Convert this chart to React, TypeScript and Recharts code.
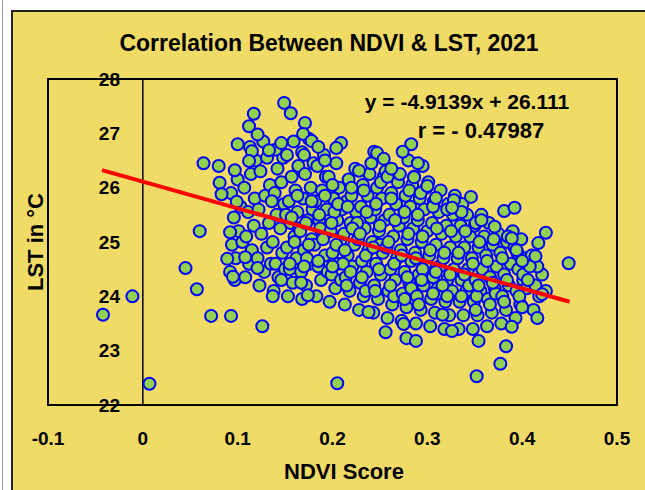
import React from "react"
import {
  ScatterChart,
  Scatter,
  XAxis,
  YAxis,
  ReferenceLine,
  ReferenceArea,
} from "recharts"

// NDVI vs LST samples, [ndvi, lst]
const edgePoints: [number, number][] = [
  [-0.042, 23.66], [-0.011, 24.0], [0.007, 22.39], [0.045, 24.52], [0.057, 24.13],
  [0.072, 23.64], [0.093, 23.64], [0.126, 23.45], [0.06, 25.2], [0.064, 26.45],
  [0.08, 26.4], [0.081, 26.09], [0.083, 25.88], [0.092, 25.18], [0.089, 24.69],
  [0.095, 24.36], [0.099, 25.74], [0.097, 26.32], [0.1, 26.8], [0.112, 27.13],
  [0.117, 27.36], [0.121, 26.98], [0.115, 26.67], [0.112, 26.49], [0.133, 26.69],
  [0.146, 26.82], [0.149, 27.56], [0.156, 27.37], [0.171, 27.19], [0.169, 26.99],
  [0.178, 26.86], [0.209, 26.82], [0.204, 26.73], [0.244, 26.66], [0.247, 26.64],
  [0.283, 26.8], [0.274, 26.66], [0.295, 26.4], [0.228, 26.31], [0.254, 26.53],
  [0.3, 26.03], [0.286, 26.19], [0.309, 25.81], [0.328, 25.77], [0.326, 25.63],
  [0.346, 25.83], [0.381, 25.57], [0.392, 25.63], [0.425, 25.17], [0.417, 24.98],
  [0.414, 24.74], [0.406, 24.3], [0.421, 24.04], [0.416, 23.6], [0.383, 23.08],
  [0.377, 22.76], [0.352, 22.53], [0.354, 23.18], [0.326, 23.36], [0.4, 23.8],
  [0.389, 23.44], [0.4, 24.65], [0.394, 24.85], [0.389, 25.07], [0.371, 25.28],
  [0.357, 25.4], [0.449, 24.61], [0.205, 22.4], [0.256, 23.34], [0.278, 23.23],
  [0.288, 23.18], [0.275, 23.49], [0.238, 23.71], [0.316, 23.66], [0.137, 24.0],
  [0.108, 24.72], [0.121, 24.52], [0.146, 24.3], [0.167, 24.25], [0.174, 24.02],
  [0.17, 26.6], [0.185, 26.75], [0.192, 26.5], [0.262, 26.35], [0.29, 26.45],
]

const corePoints: [number, number][] = [
  [0.092, 24.45], [0.098, 24.7], [0.094, 24.95], [0.101, 25.2], [0.096, 25.45],
  [0.103, 25.65], [0.093, 25.9], [0.1, 26.15], [0.097, 24.3], [0.105, 25.0],
  [0.108, 24.35], [0.112, 24.6], [0.115, 24.85], [0.109, 25.1], [0.117, 25.3],
  [0.111, 25.55], [0.118, 25.8], [0.107, 26.0], [0.114, 26.25], [0.119, 26.5],
  [0.113, 26.75], [0.123, 24.2], [0.128, 24.45], [0.121, 24.7], [0.131, 24.9],
  [0.125, 25.15], [0.133, 25.35], [0.122, 25.6], [0.129, 25.85], [0.134, 26.05],
  [0.124, 26.3], [0.131, 26.55], [0.127, 26.85], [0.135, 24.6], [0.138, 24.1],
  [0.143, 24.35], [0.14, 24.6], [0.147, 24.8], [0.137, 25.0], [0.145, 25.25],
  [0.141, 25.5], [0.149, 25.7], [0.139, 25.9], [0.146, 26.1], [0.142, 26.35],
  [0.148, 26.55], [0.14, 26.7], [0.15, 24.5], [0.136, 25.75], [0.153, 24.0],
  [0.158, 24.25], [0.155, 24.5], [0.162, 24.7], [0.152, 24.9], [0.16, 25.1],
  [0.156, 25.35], [0.163, 25.55], [0.154, 25.75], [0.161, 25.95], [0.157, 26.2],
  [0.164, 26.4], [0.152, 26.6], [0.159, 26.85], [0.165, 25.25], [0.151, 25.5],
  [0.168, 23.95], [0.172, 24.2], [0.167, 24.45], [0.176, 24.6], [0.17, 24.85],
  [0.178, 25.05], [0.166, 25.2], [0.174, 25.4], [0.179, 25.6], [0.169, 25.8],
  [0.177, 26.0], [0.171, 26.25], [0.18, 26.45], [0.168, 26.65], [0.175, 26.9],
  [0.173, 24.7], [0.183, 24.0], [0.188, 24.3], [0.185, 24.55], [0.192, 24.75],
  [0.181, 24.95], [0.19, 25.15], [0.186, 25.4], [0.194, 25.6], [0.182, 25.75],
  [0.189, 25.95], [0.193, 26.2], [0.184, 26.4], [0.191, 26.6], [0.187, 25.25],
  [0.195, 24.45], [0.197, 23.9], [0.203, 24.15], [0.199, 24.4], [0.206, 24.6],
  [0.2, 24.8], [0.208, 25.0], [0.198, 25.2], [0.205, 25.4], [0.21, 25.6],
  [0.201, 25.8], [0.207, 26.0], [0.196, 26.2], [0.204, 26.45], [0.209, 24.3],
  [0.202, 25.55], [0.213, 23.85], [0.218, 24.1], [0.214, 24.35], [0.221, 24.55],
  [0.216, 24.75], [0.223, 24.95], [0.212, 25.15], [0.219, 25.35], [0.225, 25.55],
  [0.215, 25.75], [0.222, 25.95], [0.217, 26.15], [0.224, 26.35], [0.211, 24.6],
  [0.22, 25.85], [0.228, 23.75], [0.233, 24.0], [0.229, 24.25], [0.236, 24.45],
  [0.231, 24.65], [0.238, 24.85], [0.227, 25.05], [0.234, 25.25], [0.24, 25.45],
  [0.23, 25.65], [0.237, 25.85], [0.232, 26.05], [0.239, 26.25], [0.235, 24.1],
  [0.226, 25.35], [0.243, 23.7], [0.248, 23.95], [0.244, 24.2], [0.251, 24.4],
  [0.246, 24.6], [0.253, 24.8], [0.242, 25.0], [0.249, 25.2], [0.255, 25.4],
  [0.245, 25.6], [0.252, 25.8], [0.247, 26.0], [0.254, 26.2], [0.241, 26.45],
  [0.25, 24.95], [0.258, 23.6], [0.263, 23.85], [0.259, 24.1], [0.266, 24.3],
  [0.261, 24.5], [0.268, 24.7], [0.257, 24.9], [0.264, 25.1], [0.27, 25.3],
  [0.26, 25.5], [0.267, 25.7], [0.262, 25.9], [0.269, 26.1], [0.256, 26.3],
  [0.265, 24.0], [0.273, 23.55], [0.278, 23.8], [0.274, 24.05], [0.281, 24.25],
  [0.276, 24.45], [0.283, 24.65], [0.272, 24.85], [0.279, 25.05], [0.285, 25.25],
  [0.275, 25.45], [0.282, 25.65], [0.277, 25.85], [0.284, 26.05], [0.271, 26.25],
  [0.28, 26.5], [0.283, 24.15], [0.288, 23.5], [0.293, 23.75], [0.289, 24.0],
  [0.296, 24.2], [0.291, 24.4], [0.298, 24.6], [0.287, 24.8], [0.294, 25.0],
  [0.3, 25.2], [0.29, 25.4], [0.297, 25.6], [0.292, 25.8], [0.299, 26.0],
  [0.286, 26.2], [0.295, 24.5], [0.303, 23.45], [0.308, 23.7], [0.304, 23.95],
  [0.311, 24.15], [0.306, 24.35], [0.313, 24.55], [0.302, 24.75], [0.309, 24.95],
  [0.315, 25.15], [0.305, 25.35], [0.312, 25.55], [0.307, 25.75], [0.314, 25.95],
  [0.301, 26.1], [0.31, 24.05], [0.318, 23.4], [0.323, 23.65], [0.319, 23.9],
  [0.326, 24.1], [0.321, 24.3], [0.328, 24.5], [0.317, 24.7], [0.324, 24.9],
  [0.33, 25.1], [0.32, 25.3], [0.327, 25.5], [0.322, 25.7], [0.329, 25.85],
  [0.316, 24.2], [0.333, 23.4], [0.338, 23.65], [0.334, 23.9], [0.341, 24.1],
  [0.336, 24.3], [0.343, 24.5], [0.332, 24.7], [0.339, 24.9], [0.345, 25.1],
  [0.335, 25.3], [0.342, 25.5], [0.337, 25.7], [0.344, 24.2], [0.348, 23.4],
  [0.353, 23.65], [0.349, 23.9], [0.356, 24.1], [0.351, 24.3], [0.358, 24.5],
  [0.347, 24.7], [0.354, 24.9], [0.36, 25.1], [0.35, 25.3], [0.357, 25.5],
  [0.352, 24.0], [0.363, 23.45], [0.368, 23.7], [0.364, 23.95], [0.371, 24.15],
  [0.366, 24.35], [0.373, 24.55], [0.362, 24.75], [0.369, 24.95], [0.375, 25.15],
  [0.365, 25.35], [0.372, 24.05], [0.378, 23.5], [0.383, 23.75], [0.379, 24.0],
  [0.386, 24.2], [0.381, 24.4], [0.388, 24.6], [0.377, 24.8], [0.384, 25.0],
  [0.39, 25.2], [0.393, 23.6], [0.398, 23.85], [0.394, 24.1], [0.401, 24.3],
  [0.396, 24.5], [0.403, 24.7], [0.392, 24.9], [0.399, 25.05], [0.405, 24.15],
  [0.412, 23.75], [0.418, 24.0], [0.414, 24.2], [0.421, 24.4], [0.416, 24.55],
  [0.41, 24.75], [0.425, 24.1],
]

// extra overlapping points in the densest part of the cloud
const denseCorePoints: [number, number][] = [
  [0.155, 24.6], [0.16, 25.0], [0.157, 25.45], [0.163, 25.85], [0.17, 24.55],
  [0.175, 24.95], [0.172, 25.35], [0.178, 25.75], [0.185, 24.65], [0.19, 25.05],
  [0.186, 25.5], [0.192, 25.85], [0.2, 24.55], [0.204, 24.95], [0.199, 25.35],
  [0.206, 25.7], [0.2, 26.05], [0.215, 24.2], [0.219, 24.45], [0.213, 24.85],
  [0.221, 25.25], [0.216, 25.65], [0.22, 26.0], [0.231, 24.35], [0.235, 24.75],
  [0.229, 25.15], [0.236, 25.55], [0.233, 25.95], [0.245, 24.1], [0.249, 24.5],
  [0.243, 24.9], [0.25, 25.3], [0.246, 25.7], [0.251, 26.1], [0.261, 24.2],
  [0.265, 24.6], [0.259, 25.0], [0.266, 25.4], [0.262, 25.8], [0.258, 26.2],
  [0.276, 23.95], [0.279, 24.35], [0.273, 24.75], [0.28, 25.15], [0.276, 25.55],
  [0.281, 25.95], [0.291, 23.85], [0.294, 24.3], [0.288, 24.7], [0.295, 25.1],
  [0.29, 25.5], [0.293, 25.9], [0.306, 24.05], [0.309, 24.45], [0.303, 24.85],
  [0.31, 25.25], [0.306, 25.65], [0.321, 24.0], [0.324, 24.4], [0.318, 24.8],
  [0.325, 25.2], [0.321, 25.6], [0.336, 24.0], [0.339, 24.4], [0.333, 24.8],
  [0.34, 25.2], [0.336, 25.55], [0.351, 23.75], [0.354, 24.2], [0.348, 24.6],
  [0.355, 25.0], [0.351, 25.35], [0.366, 23.85], [0.369, 24.25], [0.363, 24.65],
  [0.37, 25.05], [0.381, 23.9], [0.384, 24.3], [0.379, 24.7], [0.385, 25.1],
  [0.397, 24.0], [0.401, 24.4], [0.395, 24.8], [0.408, 24.55],
]

const xTicks = [-0.1, 0, 0.1, 0.2, 0.3, 0.4, 0.5]
const yTicks = [22, 23, 24, 25, 26, 27, 28]

// regression shown on the chart
const slope = -4.9139
const intercept = 26.111
const rValue = "- 0.47987"
const trendNdvi = [-0.043, 0.45]

const scatterData = [...corePoints, ...denseCorePoints, ...edgePoints].map(
  ([x, y]) => ({ x, y })
)
const trendData = trendNdvi.map((x) => ({ x, y: slope * x + intercept }))

const FONT = "'Liberation Sans', Arial, sans-serif"
const BG = "#F0DB66"

const Dot = (props: any) => (
  <circle
    cx={props.cx}
    cy={props.cy}
    r={6}
    fill="#92D050"
    stroke="#0000FF"
    strokeWidth={2}
  />
)

const NoShape = () => <g />

const label = (
  left: number,
  top: number,
  size: number,
  text: string,
  extra: React.CSSProperties = {}
) => (
  <div
    style={{
      position: "absolute",
      left,
      top,
      transform: "translate(-50%, -50%)",
      fontFamily: FONT,
      fontWeight: 700,
      fontSize: size,
      whiteSpace: "pre",
      lineHeight: 1,
      color: "#000",
      ...extra,
    }}
  >
    {text}
  </div>
)

export default function App() {
  return (
    <div
      style={{
        position: "fixed",
        left: 0,
        top: 0,
        width: 645,
        height: 490,
        background: "#fff",
        overflow: "hidden",
      }}
    >
      <div
        style={{
          position: "absolute",
          left: 2,
          top: 0,
          width: 1,
          height: 490,
          background: "#9a9a9a",
        }}
      />
      <div
        style={{
          position: "absolute",
          left: 11,
          top: 10,
          width: 650,
          height: 500,
          background: BG,
          borderLeft: "2px solid #222",
          borderTop: "2px solid #222",
        }}
      />
      <div style={{ position: "absolute", left: 12, top: 12 }}>
        <ScatterChart
          width={633}
          height={478}
          margin={{ top: 67, right: 28, left: 0, bottom: 0 }}
        >
          <XAxis
            type="number"
            dataKey="x"
            domain={[-0.1, 0.5]}
            ticks={xTicks}
            allowDataOverflow
            axisLine={false}
            tickLine={false}
            height={85}
            tick={(p: any) => (
              <text
                x={p.x}
                y={426}
                textAnchor="middle"
                dy="0.35em"
                fontFamily={FONT}
                fontWeight={700}
                fontSize={19}
                fill="#000"
              >
                {p.payload.value}
              </text>
            )}
          />
          <YAxis
            type="number"
            dataKey="y"
            domain={[22, 28]}
            ticks={yTicks}
            allowDataOverflow
            axisLine={false}
            tickLine={false}
            width={36}
            tick={(p: any) => (
              <text
                x={108}
                y={p.y}
                textAnchor="end"
                dy="0.35em"
                fontFamily={FONT}
                fontWeight={700}
                fontSize={19}
                fill="#000"
              >
                {p.payload.value}
              </text>
            )}
          />
          <ReferenceArea
            x1={-0.1}
            x2={0.5}
            y1={22}
            y2={28}
            fill="none"
            stroke="#000"
            strokeWidth={2}
          />
          <ReferenceLine x={0} stroke="#000" strokeWidth={1.5} />
          <Scatter
            data={scatterData}
            shape={Dot}
            isAnimationActive={false}
          />
          <Scatter
            data={trendData}
            shape={NoShape}
            line={{ stroke: "#FF0000", strokeWidth: 4 }}
            isAnimationActive={false}
          />
        </ScatterChart>
      </div>
      {label(329, 43, 23, "Correlation Between NDVI & LST, 2021")}
      {label(467, 101, 21, `y = ${slope}x + ${intercept}`)}
      {label(481, 131, 22, `r = ${rValue}`)}
      {label(344, 472, 22, "NDVI Score")}
      {label(36, 242, 22, "LST in °C", {
        transform: "translate(-50%, -50%) rotate(-90deg)",
      })}
    </div>
  )
}
